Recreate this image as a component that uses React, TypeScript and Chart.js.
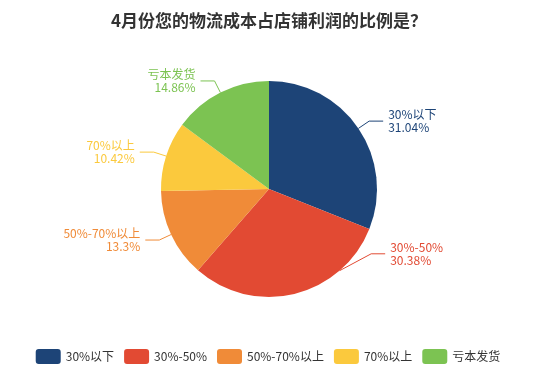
import React, { useEffect, useRef } from "react";
import { Chart, registerables } from "chart.js";

Chart.register(...registerables);

const TITLE = "4月份您的物流成本占店铺利润的比例是？";
const CATEGORIES = ["30%以下", "30%-50%", "50%-70%以上", "70%以上", "亏本发货"];
const VALUES = [31.04, 30.38, 13.3, 10.42, 14.86];
const COLORS = ["#1d4477", "#e24a33", "#f08b38", "#fbc93d", "#7cc352"];
const FONT = '"Noto Sans CJK SC", "Microsoft YaHei", sans-serif';
const TEXT_COLOR = "#333333";

const W = 541;
const H = 376;

const labelPlugin = {
  id: "pieLabels",
  afterDatasetsDraw(chart: any) {
    const ctx = chart.ctx;
    const meta = chart.getDatasetMeta(0);
    const len1 = 13;
    const len2 = 14;
    ctx.save();
    ctx.font = `12px ${FONT}`;
    ctx.textBaseline = "middle";
    meta.data.forEach((arc: any, i: number) => {
      const { x: cx, y: cy, startAngle, endAngle, outerRadius: r } = arc.getProps(
        ["x", "y", "startAngle", "endAngle", "outerRadius"],
        true
      );
      const mid = (startAngle + endAngle) / 2;
      const side = Math.cos(mid) >= 0 ? 1 : -1;
      const R1 = r + len1;
      let bendY = cy + Math.sin(mid) * R1;
      let bendX = cx + Math.cos(mid) * R1;
      let anchorAngle = mid;
      const maxY = cy + r * 0.6;
      const minY = cy - r * 1.03;
      if (bendY > maxY) {
        bendY = maxY;
        const dy = bendY - cy;
        bendX = cx + side * Math.sqrt(Math.max(R1 * R1 - dy * dy, 0));
        anchorAngle = (startAngle + mid) / 2;
      } else if (bendY < minY) {
        bendY = minY;
        bendX = cx + Math.cos(mid) * R1 - side * 6;
      }
      const sx = cx + Math.cos(anchorAngle) * r;
      const sy = cy + Math.sin(anchorAngle) * r;
      const ex = bendX + side * len2;
      const color = COLORS[i];
      ctx.strokeStyle = color;
      ctx.lineWidth = 1;
      ctx.beginPath();
      ctx.moveTo(sx, sy);
      ctx.lineTo(bendX, bendY);
      ctx.lineTo(ex, bendY);
      ctx.stroke();
      ctx.fillStyle = color;
      ctx.textAlign = side > 0 ? "left" : "right";
      const tx = ex + side * 5;
      ctx.fillText(CATEGORIES[i], tx, bendY - 6.5);
      ctx.fillText(`${VALUES[i]}%`, tx, bendY + 6.5);
    });
    ctx.restore();
  },
};

const decorPlugin = {
  id: "decor",
  afterDraw(chart: any) {
    const ctx = chart.ctx;
    ctx.save();
    // title
    ctx.font = `bold 17px ${FONT}`;
    ctx.fillStyle = TEXT_COLOR;
    ctx.textAlign = "center";
    ctx.textBaseline = "middle";
    ctx.fillText(TITLE, 269, 21);

    // legend
    ctx.font = `12px ${FONT}`;
    const boxW = 25;
    const boxH = 15;
    const gapText = 5;
    const gapItem = 10;
    const widths = CATEGORIES.map((c) => boxW + gapText + ctx.measureText(c).width);
    const total = widths.reduce((a, b) => a + b, 0) + gapItem * (CATEGORIES.length - 1);
    let x = 268 - total / 2;
    const yc = 356.5;
    CATEGORIES.forEach((c, i) => {
      ctx.fillStyle = COLORS[i];
      ctx.beginPath();
      if ((ctx as any).roundRect) {
        (ctx as any).roundRect(x, yc - boxH / 2, boxW, boxH, 3);
      } else {
        ctx.rect(x, yc - boxH / 2, boxW, boxH);
      }
      ctx.fill();
      ctx.fillStyle = TEXT_COLOR;
      ctx.textAlign = "left";
      ctx.textBaseline = "middle";
      ctx.fillText(c, x + boxW + gapText, yc);
      x += widths[i] + gapItem;
    });
    ctx.restore();
  },
};

export default function App() {
  const ref = useRef<HTMLCanvasElement | null>(null);
  useEffect(() => {
    if (!ref.current) return;
    const chart = new Chart(ref.current, {
      type: "pie",
      data: {
        labels: CATEGORIES,
        datasets: [
          {
            data: VALUES,
            backgroundColor: COLORS,
            borderWidth: 0,
          },
        ],
      },
      options: {
        responsive: false,
        animation: false,
        devicePixelRatio: 1,
        layout: {
          padding: { top: 81, bottom: 79, left: 161, right: 164 },
        },
        plugins: {
          legend: { display: false },
          title: { display: false },
          tooltip: { enabled: false },
        },
      },
      plugins: [labelPlugin, decorPlugin],
    });
    return () => chart.destroy();
  }, []);
  return (
    <div style={{ position: "fixed", left: 0, top: 0, width: W, height: H, background: "#fff" }}>
      <canvas ref={ref} width={W} height={H} style={{ width: W, height: H }} />
    </div>
  );
}
